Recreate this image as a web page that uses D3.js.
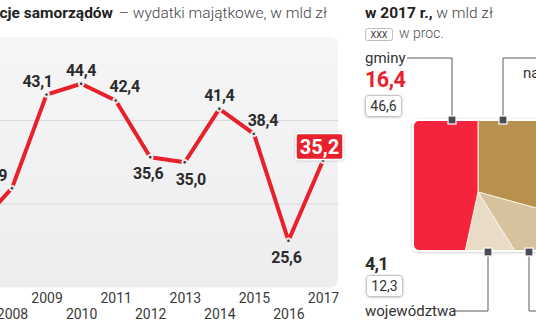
<!DOCTYPE html>
<html><head><meta charset="utf-8">
<script src="https://cdn.jsdelivr.net/npm/d3@7"></script>
<style>body{margin:0;background:#fff}svg{display:block}</style>
</head><body>
<svg id="c" width="536" height="332"></svg>
<script>
// ---------- data ----------
const years = [2007, 2008, 2009, 2010, 2011, 2012, 2013, 2014, 2015, 2016, 2017];
const investment = [27.4, 31.9, 43.1, 44.4, 42.4, 35.6, 35.0, 41.4, 38.4, 25.6, 35.2];
const labelPlacement = ['t', 'l', 'tl', 't', 'tr', 'b', 'br', 't', 'tr', 'b', 'box'];
const gridValues = [30, 40];

const sliceNames = ['miasta na prawach powiatu', 'powiaty', 'województwa', 'gminy'];
const sliceShares = [29.3, 11.8, 12.3, 46.6];
const sliceAmounts = ['', '', '4,1', '16,4'];
const sliceColors = ['#b8914f', '#d6c29c', '#e9dcc7', '#f5233c'];

// ---------- setup ----------
const svg = d3.select('#c');
const defs = svg.append('defs');
const fontMain = 'Roboto, "Noto Sans", sans-serif';
const lineRed = '#e8202b';

const x = d3.scaleLinear().domain([2008, 2017]).range([12, 323]);
const y = d3.scaleLinear().domain([20, 50]).range([287.5, 37]);

const g1 = defs.append('linearGradient').attr('id', 'pg').attr('x1', 0).attr('y1', 0).attr('x2', 0).attr('y2', 1);
g1.append('stop').attr('offset', '0%').attr('stop-color', '#f6f6f7');
g1.append('stop').attr('offset', '100%').attr('stop-color', '#ededef');

const sh = defs.append('filter').attr('id', 'sh').attr('x', '-10%').attr('y', '-10%').attr('width', '120%').attr('height', '120%');
sh.append('feDropShadow').attr('dx', 0).attr('dy', 0.5).attr('stdDeviation', 0.8).attr('flood-color', '#000').attr('flood-opacity', 0.25);

// ---------- titles ----------
svg.append('text').attr('x', 113).attr('y', 18).attr('text-anchor', 'end').attr('font-family', fontMain)
  .attr('font-size', 15.5).attr('font-weight', 700).attr('fill', '#222').text('Inwestycje samorządów');
svg.append('text').attr('x', 119).attr('y', 18).attr('font-family', fontMain).attr('font-size', 15.5)
  .attr('font-weight', 300).attr('fill', '#444')
  .text('– wydatki majątkowe, w mld zł');

// ---------- panel ----------
svg.append('rect').attr('x', -40).attr('y', y(50)).attr('width', x(2017) + 15 + 40)
  .attr('height', y(20) - y(50)).attr('rx', 8).attr('fill', 'url(#pg)');

svg.selectAll('line.grid').data(gridValues).join('line').attr('class', 'grid')
  .attr('x1', -40).attr('x2', x(2017) + 15).attr('y1', d => y(d)).attr('y2', d => y(d))
  .attr('stroke', '#d9d9db').attr('stroke-width', 1);

// ---------- year axis ----------
const xAxis = d3.axisBottom(x).tickValues(years).tickFormat(d3.format('d')).tickSize(0).tickPadding(0);
const ax = svg.append('g').call(xAxis);
ax.select('.domain').remove();
ax.selectAll('text').attr('font-family', fontMain).attr('font-size', 14).attr('fill', '#3a3a3a')
  .attr('dy', null)
  .attr('y', d => (d % 2 === 1 ? 303 : 319));

// ---------- line ----------
const pts = years.map((yr, i) => ({ yr, v: investment[i], pos: labelPlacement[i] }));
svg.append('path').datum(pts)
  .attr('d', d3.line().x(d => x(d.yr)).y(d => y(d.v)))
  .attr('fill', 'none').attr('stroke', lineRed).attr('stroke-width', 4)
  .attr('stroke-linejoin', 'round');

svg.selectAll('circle.pt').data(pts).join('circle').attr('class', 'pt')
  .attr('cx', d => x(d.yr)).attr('cy', d => y(d.v)).attr('r', 3)
  .attr('fill', '#e2e2e2').attr('stroke', '#fff').attr('stroke-width', 0.6);
svg.selectAll('circle.ptc').data(pts).join('circle').attr('class', 'ptc')
  .attr('cx', d => x(d.yr)).attr('cy', d => y(d.v)).attr('r', 1.2).attr('fill', '#333');

const off = { t: [0, -8], tl: [-9, -8], tr: [9, -8], l: [-20, -7], b: [-2, 22], br: [6, 23] };
const fmt = v => d3.format('.1f')(v).replace('.', ',');
pts.filter(d => d.pos !== 'box').forEach(d => {
  const o = off[d.pos];
  svg.append('text').attr('x', x(d.yr) + o[0]).attr('y', y(d.v) + o[1])
    .attr('text-anchor', 'middle').attr('font-family', fontMain).attr('font-weight', 700)
    .attr('font-size', 16).attr('fill', '#2b2b2b').attr('letter-spacing', -0.3).text(fmt(d.v));
});
pts.filter(d => d.pos === 'box').forEach(d => {
  const cx = x(d.yr) - 3.5, cy = y(d.v) - 14;
  svg.append('rect').attr('x', cx - 23.5).attr('y', cy - 13).attr('width', 47).attr('height', 26)
    .attr('rx', 2.5).attr('fill', lineRed).attr('stroke', '#fff').attr('stroke-width', 1.5)
    .attr('filter', 'url(#sh)');
  svg.append('text').attr('x', cx).attr('y', cy + 7.5).attr('text-anchor', 'middle')
    .attr('font-family', fontMain).attr('font-weight', 700).attr('font-size', 20)
    .attr('fill', '#fff').text(fmt(d.v));
});

// ---------- right part ----------
const rx0 = 365;
const t2 = svg.append('text').attr('x', rx0).attr('y', 18).attr('font-family', fontMain).attr('font-size', 15.5);
t2.append('tspan').attr('font-weight', 700).attr('fill', '#222').text('w 2017 r.,');
t2.append('tspan').attr('font-weight', 300).attr('fill', '#444').text(' w mld zł');

svg.append('rect').attr('x', rx0 + 0.5).attr('y', 28.5).attr('width', 27).attr('height', 12).attr('rx', 2)
  .attr('fill', '#fff').attr('stroke', '#bdbdbd');
svg.append('text').attr('x', rx0 + 14).attr('y', 38).attr('text-anchor', 'middle').attr('font-family', fontMain)
  .attr('font-size', 9).attr('fill', '#333').text('XXX');
svg.append('text').attr('x', 399).attr('y', 38).attr('font-family', fontMain).attr('font-size', 14)
  .attr('font-weight', 300).attr('fill', '#555').text('w proc.');

// square pie
const sq = { x: 413, y: 120, w: 131, h: 131, cx: 478, cy: 192 };
defs.append('clipPath').attr('id', 'sqc').append('rect')
  .attr('x', sq.x).attr('y', sq.y).attr('width', sq.w).attr('height', sq.h).attr('rx', 6);
svg.append('rect').attr('x', sq.x - 1).attr('y', sq.y - 1).attr('width', sq.w + 2).attr('height', sq.h + 2)
  .attr('rx', 7).attr('fill', '#fff').attr('filter', 'url(#sh)');
const pie = d3.pie().sort(null).value(d => d.share);
const slices = pie(sliceNames.map((n, i) => ({ n, share: sliceShares[i], c: sliceColors[i] })));
const arc = d3.arc().innerRadius(0).outerRadius(200);
svg.append('g').attr('clip-path', 'url(#sqc)')
  .append('g').attr('transform', `translate(${sq.cx},${sq.cy})`)
  .selectAll('path').data(slices).join('path').attr('d', arc)
  .attr('fill', d => d.data.c).attr('stroke', '#f7f0e2').attr('stroke-width', 1);
svg.append('rect').attr('x', sq.x).attr('y', sq.y).attr('width', sq.w).attr('height', sq.h).attr('rx', 6)
  .attr('fill', 'none').attr('stroke', '#fff').attr('stroke-width', 2);

// leaders
const leaderColor = '#5a5a5a';
const leaders = [
  { mx: 452, my: sq.y, pts: [[452, 58], [407, 58]] },
  { mx: 503, my: sq.y, pts: [[503, 58], [560, 58]] },
  { mx: 488, my: sq.y + sq.h + 1, pts: [[488, 311], [453, 311]] },
  { mx: 529, my: sq.y + sq.h + 1, pts: [[529, 311], [560, 311]] }
];
leaders.forEach(l => {
  svg.append('path').attr('d', d3.line()([[l.mx, l.my], ...l.pts]))
    .attr('fill', 'none').attr('stroke', leaderColor).attr('stroke-width', 1);
});
leaders.forEach(l => {
  svg.append('rect').attr('x', l.mx - 4).attr('y', l.my - 4).attr('width', 8).attr('height', 8)
    .attr('fill', '#4b4b55').attr('stroke', '#fff').attr('stroke-width', 1.2).attr('filter', 'url(#sh)');
});

function pctBox(x0, y0, txt) {
  svg.append('rect').attr('x', x0 + 0.5).attr('y', y0 + 0.5).attr('width', 36).attr('height', 21).attr('rx', 3)
    .attr('fill', '#fff').attr('stroke', '#c4c4c4').attr('filter', 'url(#sh)');
  svg.append('text').attr('x', x0 + 18.5).attr('y', y0 + 16).attr('text-anchor', 'middle')
    .attr('font-family', fontMain).attr('font-size', 14).attr('fill', '#333').text(txt);
}
const pfmt = v => d3.format('.1f')(v).replace('.', ',');
svg.append('text').attr('x', rx0).attr('y', 63).attr('font-family', fontMain).attr('font-size', 15)
  .attr('fill', '#333').text(sliceNames[3]);
svg.append('text').attr('x', rx0).attr('y', 87).attr('font-family', fontMain).attr('font-size', 21.5)
  .attr('font-weight', 700).attr('fill', '#e8202b').attr('letter-spacing', -0.5).text(sliceAmounts[3]);
pctBox(rx0, 95, pfmt(sliceShares[3]));
svg.append('text').attr('x', 523).attr('y', 78).attr('font-family', fontMain).attr('font-size', 15)
  .attr('fill', '#333').text('na prawach powiatu');
svg.append('text').attr('x', rx0).attr('y', 270).attr('font-family', fontMain).attr('font-size', 18)
  .attr('font-weight', 700).attr('fill', '#2b2b2b').attr('letter-spacing', -0.8).text(sliceAmounts[2]);
pctBox(rx0 + 1, 275, pfmt(sliceShares[2]));
svg.append('text').attr('x', rx0).attr('y', 316).attr('font-family', fontMain).attr('font-size', 15)
  .attr('fill', '#333').text(sliceNames[2]);
</script>
</body></html>
